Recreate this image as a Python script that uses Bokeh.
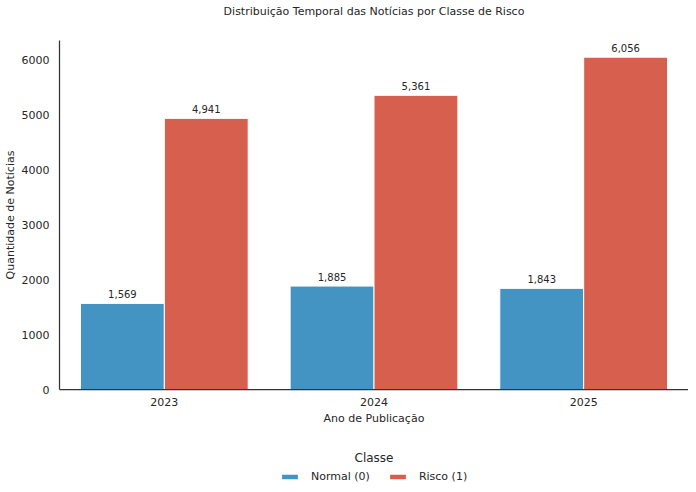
from bokeh.plotting import figure
from bokeh.models import ColumnDataSource, FactorRange, Range1d, FixedTicker, Legend, LegendItem, Title
from bokeh.layouts import column
from bokeh.transform import dodge
from bokeh.core.properties import value
from bokeh.embed import file_html
from bokeh.resources import INLINE

years = ["2023", "2024", "2025"]
normal = [1569, 1885, 1843]
risco = [4941, 5361, 6056]
y_ticks = [0, 1000, 2000, 3000, 4000, 5000, 6000]
classes = ["Normal (0)", "Risco (1)"]
colors = ["#4393c3", "#d6604d"]

title = "Distribuição Temporal das Notícias por Classe de Risco"
FONT = "DejaVu Sans"
TXT = "#262626"

src = ColumnDataSource(dict(
    year=years, normal=normal, risco=risco,
    nlab=[f"{v:,}" for v in normal], rlab=[f"{v:,}" for v in risco],
))

p = figure(width=688, height=440, x_range=FactorRange(factors=years),
           y_range=Range1d(0, 6360), output_backend="svg", toolbar_location=None,
           min_border_left=58, min_border_right=0, min_border_top=40,
           min_border_bottom=51)

p.title.text = title
p.title.align = "center"
p.title.text_font = FONT
p.title.text_font_size = "11px"
p.title.text_font_style = "normal"
p.title.text_color = TXT
p.title.standoff = 0

# spacer between the title and the plot area
spacer = Title(text=" ", text_font=FONT, text_font_size="11px", standoff=8)
p.add_layout(spacer, "above")

rn = p.vbar(x=dodge("year", -0.2, range=p.x_range), top="normal", width=0.4, source=src,
            fill_color=colors[0], line_color="white", line_width=1)
rr = p.vbar(x=dodge("year", 0.2, range=p.x_range), top="risco", width=0.4, source=src,
            fill_color=colors[1], line_color="white", line_width=1)

for col, lab, off in [("normal", "nlab", -0.2), ("risco", "rlab", 0.2)]:
    p.text(x=dodge("year", off, range=p.x_range), y=col, text=lab, source=src,
           text_align="center", text_baseline="bottom", y_offset=-5,
           text_font=value(FONT), text_font_size="10px", text_color=TXT)

p.grid.visible = False
p.outline_line_color = None
p.background_fill_color = "white"

for ax in (p.xaxis[0], p.yaxis[0]):
    ax.axis_line_color = "#333333"
    ax.axis_line_width = 1.25
    ax.major_tick_line_color = None
    ax.minor_tick_line_color = None
    ax.major_tick_out = 0
    ax.major_tick_in = 0
    ax.minor_tick_out = 0
    ax.minor_tick_in = 0
    ax.major_label_text_font = FONT
    ax.major_label_text_font_size = "11px"
    ax.major_label_text_color = TXT
    ax.axis_label_text_font = FONT
    ax.axis_label_text_font_size = "11px"
    ax.axis_label_text_font_style = "normal"
    ax.axis_label_text_color = TXT

p.yaxis[0].ticker = FixedTicker(ticks=y_ticks)
p.xaxis.axis_label = "Ano de Publicação"
p.yaxis.axis_label = "Quantidade de Notícias"
p.xaxis[0].major_label_standoff = 8
p.xaxis[0].axis_label_standoff = 3
p.yaxis[0].major_label_standoff = 10
p.yaxis[0].axis_label_standoff = 2

# legend panel below the chart
lg = figure(width=688, height=44, x_range=FactorRange(factors=years), y_range=Range1d(0, 1),
            output_backend="svg", toolbar_location=None,
            min_border_left=58, min_border_right=0, min_border_top=24, min_border_bottom=0)
lg.title.text = "Classe"
lg.title.align = "center"
lg.title.text_font = FONT
lg.title.text_font_size = "12px"
lg.title.text_font_style = "normal"
lg.title.text_color = TXT
lg.title.standoff = 0
lg.axis.visible = False
lg.grid.visible = False
lg.outline_line_color = None

items = []
for name, c, col in zip(classes, colors, ["normal", "risco"]):
    r = lg.vbar(x="year", top=col, width=0.4, source=src, fill_color=c,
                line_color="white", visible=False)
    items.append(LegendItem(label=name, renderers=[r]))

legend = Legend(items=items, orientation="horizontal", location=(220, 1))
legend.label_text_font = FONT
legend.label_text_font_size = "11px"
legend.label_text_color = TXT
legend.glyph_width = 21
legend.glyph_height = 7
legend.label_standoff = 11
legend.spacing = 17
legend.border_line_color = None
legend.background_fill_alpha = 0
legend.inactive_fill_alpha = 0
legend.margin = 0
legend.padding = 2
lg.add_layout(legend, "center")

open("out.html", "w").write(file_html(column(p, lg), INLINE))
